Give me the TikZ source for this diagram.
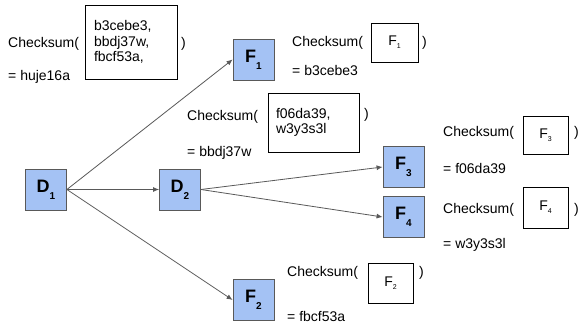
\documentclass[tikz,border=0pt]{standalone}
\usepackage{fontspec}
\setmainfont{Liberation Sans}
\usetikzlibrary{arrows.meta}
\definecolor{nodefill}{HTML}{A4C2F4}
\definecolor{nodeline}{HTML}{595959}
\definecolor{arrowc}{HTML}{595959}
\newcommand{\bigsub}[1]{\raisebox{-7pt}{\fontsize{10}{10}\selectfont\bfseries #1}}
\newcommand{\smallsub}[1]{\raisebox{-3pt}{\fontsize{7}{7}\selectfont #1}}
\tikzset{
  blk/.style={draw=nodeline, fill=nodefill, line width=0.8pt, minimum width=41pt, minimum height=41pt, inner sep=0pt, font=\fontsize{18}{18}\selectfont\bfseries},
  arr/.style={draw=arrowc, line width=0.8pt, -{Latex[length=6pt,width=5pt]}},
  txt/.style={anchor=west, inner sep=0pt, text height=10pt, text depth=3pt, font=\fontsize{14}{15.5}\selectfont},
  argbox/.style={draw=black, line width=0.8pt, inner sep=0pt, font=\fontsize{14}{15.5}\selectfont}
}
\begin{document}
\begin{tikzpicture}[x=1pt,y=-1pt]
\useasboundingbox[fill=white] (0,0) rectangle (579,329);
% main nodes
\node[blk] (d1) at (46,189.5) {D\bigsub{1}};
\node[blk] (d2) at (180,189.5) {D\bigsub{2}};
\node[blk] (f1) at (253.5,59.5) {F\bigsub{1}};
\node[blk] (f2) at (253.5,300) {F\bigsub{2}};
\node[blk] (f3) at (403.5,167) {F\bigsub{3}};
\node[blk] (f4) at (403.5,217) {F\bigsub{4}};
% connectors
\draw[arr] (d1.east) -- (f1.west);
\draw[arr] (d1.east) -- (d2.west);
\draw[arr] (d1.east) -- (f2.west);
\draw[arr] (d2.east) -- (f3.west);
\draw[arr] (d2.east) -- (f4.west);
% checksum of D1
\node[txt] (c1a) at (8,44) {Checksum(};
\node[argbox, minimum height=74pt, text width=74pt, inner xsep=9pt, align=left] (c1b) at (131,42) {b3cebe3,\\bbdj37w,\\fbcf53a,};
\node[txt] (c1c) at (181,44) {)};
\node[txt] (c1d) at (8,77) {= huje16a};
% checksum of F1
\node[txt] (c2a) at (292,43) {Checksum(};
\node[argbox, minimum width=47pt, minimum height=39pt] (c2b) at (394.5,42.5) {F\smallsub{1}};
\node[txt] (c2c) at (422,43) {)};
\node[txt] (c2d) at (292,72) {= b3cebe3};
% checksum of D2
\node[txt] (c3a) at (187,117) {Checksum(};
\node[argbox, minimum height=59pt, text width=75pt, inner xsep=8pt, align=left] (c3b) at (313.5,122.5) {f06da39,\\w3y3s3l};
\node[txt] (c3c) at (364,115) {)};
\node[txt] (c3d) at (187,153) {= bbdj37w};
% checksum of F3
\node[txt] (c4a) at (443,133) {Checksum(};
\node[argbox, minimum width=45pt, minimum height=38pt] (c4b) at (545.5,135) {F\smallsub{3}};
\node[txt] (c4c) at (574,133) {)};
\node[txt] (c4d) at (443,170) {= f06da39};
% checksum of F4
\node[txt] (c5a) at (443,210) {Checksum(};
\node[argbox, minimum width=45pt, minimum height=41pt] (c5b) at (545.5,207.5) {F\smallsub{4}};
\node[txt] (c5c) at (574,210) {)};
\node[txt] (c5d) at (443,245) {= w3y3s3l};
% checksum of F2
\node[txt] (c6a) at (287,273) {Checksum(};
\node[argbox, minimum width=45pt, minimum height=40pt] (c6b) at (390.5,283) {F\smallsub{2}};
\node[txt] (c6c) at (419,273) {)};
\node[txt] (c6d) at (287,318) {= fbcf53a};
\end{tikzpicture}
\end{document}
